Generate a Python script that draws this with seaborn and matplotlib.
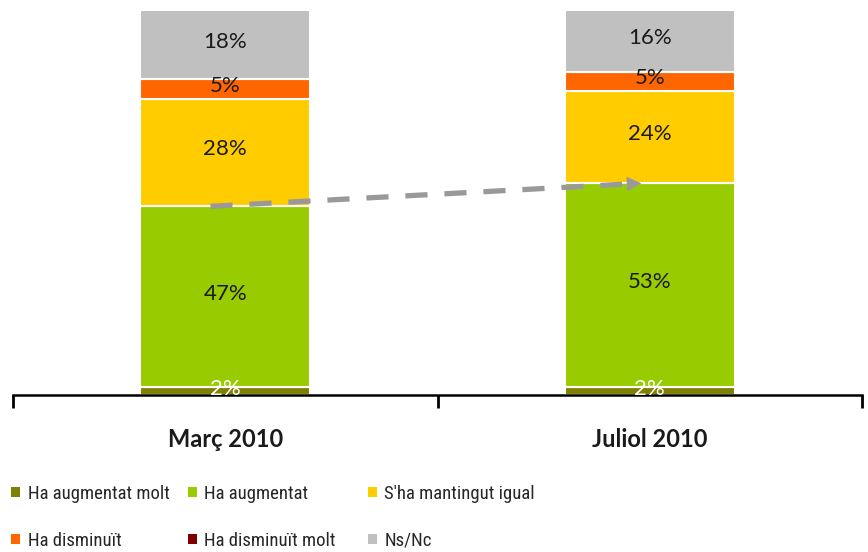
import matplotlib
matplotlib.use('Agg')
import matplotlib.pyplot as plt
import seaborn as sns
import numpy as np
import pandas as pd
from matplotlib.patches import Patch
from matplotlib import font_manager as fm

# Dades (percentatges)
periodes = ['Març 2010', 'Juliol 2010']
respostes = ['Ha augmentat molt', 'Ha augmentat', "S'ha mantingut igual",
             'Ha disminuït', 'Ha disminuït molt', 'Ns/Nc']
augmentat_molt = [2, 2]
augmentat = [47, 53]
mantingut = [28, 24]
disminuit = [5, 5]
disminuit_molt = [0, 0]
nsnc = [18, 16]
colors = ['#808000', '#99CC00', '#FFCC00', '#FF6600', '#800000', '#C0C0C0']

series = [augmentat_molt, augmentat, mantingut, disminuit, disminuit_molt, nsnc]

sns.set_theme(style='white')
plt.rcParams['font.family'] = ['Lato', 'DejaVu Sans']

# font estreta per a la llegenda si n'hi ha
noms = {f.name for f in fm.fontManager.ttflist}
estreta = [n for n in ['Roboto Condensed', 'Liberation Sans Narrow', 'Open Sans Condensed'] if n in noms]
if estreta:
    leg_font = dict(family=[estreta[0], 'DejaVu Sans'], size=13.5)
else:
    leg_font = dict(family=['Lato', 'DejaVu Sans'], size=12)

W, H = 868, 552
fig = plt.figure(figsize=(W / 100, H / 100), dpi=100)
base_y, top_y = 395, 10
ax = fig.add_axes([13 / W, (H - base_y) / H, (862 - 13) / W, (base_y - top_y) / H])

bottom = np.zeros(len(periodes))
for nom, vals, col in zip(respostes, series, colors):
    vals = np.array(vals, dtype=float)
    if vals.sum() > 0:
        df = pd.DataFrame({'Periode': periodes, 'Valor': vals})
        sns.barplot(data=df, x='Periode', y='Valor', order=periodes, bottom=bottom,
                    color=col, width=0.4, edgecolor='white', linewidth=1.5,
                    saturation=1, errorbar=None, ax=ax)
        for i, v in enumerate(vals):
            if v <= 0:
                continue
            if nom == 'Ha augmentat molt':
                ax.text(i, bottom[i] + 1.6, f'{v:.0f}%', ha='center', va='center',
                        fontsize=16, color='white')
            else:
                ax.text(i, bottom[i] + v / 2 + 0.8, f'{v:.0f}%', ha='center',
                        va='center', fontsize=16, color='#1a1a1a')
    bottom += vals

# fletxa discontínua entre els dos "augmentat"
y0 = augmentat_molt[0] + augmentat[0]
y1 = augmentat_molt[1] + augmentat[1]
x0, x1 = -0.035, 0.98
xh = 0.935
yh = y0 + (y1 - y0) * (xh - x0) / (x1 - x0)
ax.plot([x0, xh], [y0, yh], color='#999999', lw=3.8,
        linestyle=(0, (4.2, 3.2)), solid_capstyle='butt', dash_capstyle='butt', zorder=5)
ax.annotate('', xy=(x1, y1), xytext=(xh - 0.02, yh - 0.1),
            arrowprops=dict(arrowstyle='-|>', color='#999999', lw=0.5,
                            mutation_scale=24, shrinkA=0, shrinkB=0), zorder=5)

ax.set_xlim(-0.5, 1.5)
ax.set_ylim(0, 100)
ax.set_xlabel('')
ax.set_ylabel('')
ax.set_yticks([])
ax.set_xticks([-0.5, 0.5, 1.5])
ax.set_xticklabels([])
ax.set_xticks([0, 1], minor=True)
ax.set_xticklabels(periodes, minor=True, fontsize=17, fontweight='bold', color='#1a1a1a')
ax.tick_params(axis='x', which='major', direction='out', length=9, width=2, color='black',
               bottom=True)
ax.tick_params(axis='x', which='minor', length=0, pad=24)
for s in ['left', 'right', 'top']:
    ax.spines[s].set_visible(False)
ax.spines['bottom'].set_color('black')
ax.spines['bottom'].set_linewidth(1.8)
ax.set_facecolor('none')

# llegenda: tres columnes de dues files
handles = [Patch(facecolor=c, edgecolor='none', label=r) for r, c in zip(respostes, colors)]
col_x = [5, 182, 362]
for j, xc in enumerate(col_x):
    fig.legend(handles=[handles[j], handles[j + 3]], loc='upper left',
               bbox_to_anchor=(xc / W, 1 - 479 / H), frameon=False, prop=leg_font,
               handlelength=0.5, handleheight=0.5, handletextpad=0.4,
               labelspacing=1.55, borderaxespad=0, borderpad=0.3)

fig.savefig('out.png', dpi=100)
